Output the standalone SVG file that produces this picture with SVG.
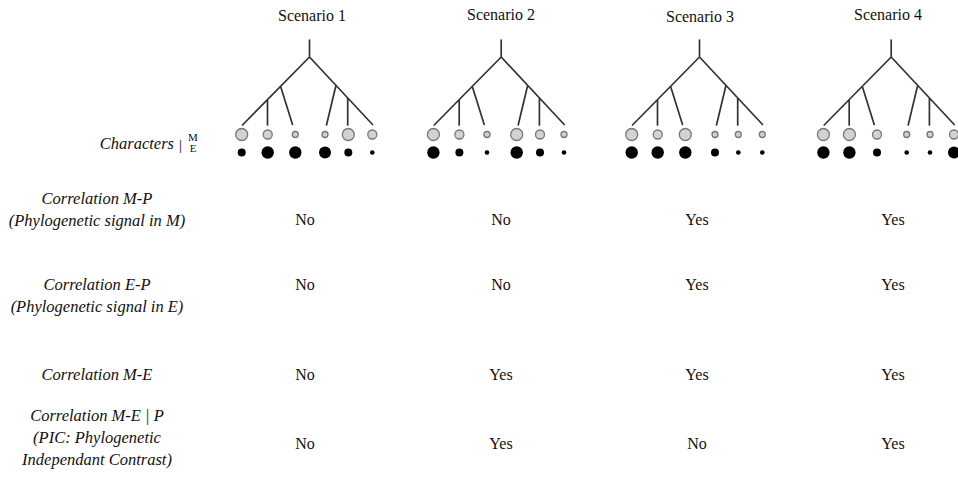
<svg xmlns="http://www.w3.org/2000/svg" width="958" height="480" viewBox="0 0 958 480">
<style>
text{font-family:"Liberation Serif","Times New Roman",serif;fill:#111}
.hd{font-size:16px;text-anchor:middle}
.lab{font-size:16.5px;font-style:italic;text-anchor:middle}
.val{font-size:16px;text-anchor:middle}
.br{stroke:#333;stroke-width:1.7;fill:none;stroke-linecap:round}
.m{fill:#d2d2d2;stroke:#777;stroke-width:1.3}
.e{fill:#000}
</style>
<defs>
<g id="tree">
<path class="br" d="M309.5,40V57M309.5,57L242.5,125M280.7,86.7L292.5,124.5M267.5,99.5V125M309.5,57L372.5,124.5M336,85.3L326.5,125M347.7,98V125"/>
</g>
</defs>
<rect width="958" height="480" fill="#fff"/>

<g id="labels">
<text x="174" y="148.5" style="font-size:16.5px;font-style:italic;text-anchor:end">Characters</text>
<text x="179" y="150" style="font-size:15px">|</text>
<text x="193" y="140.5" style="font-size:11px;text-anchor:middle">M</text>
<text x="193" y="151.5" style="font-size:11px;text-anchor:middle">E</text>
<text class="lab" x="97" y="203.5">Correlation M-P</text>
<text class="lab" x="97" y="225.5">(Phylogenetic signal in M)</text>
<text class="lab" x="97" y="290">Correlation E-P</text>
<text class="lab" x="97" y="312">(Phylogenetic signal in E)</text>
<text class="lab" x="97" y="380">Correlation M-E</text>
<text class="lab" x="97" y="420.5">Correlation M-E | P</text>
<text class="lab" x="97" y="442.5">(PIC: Phylogenetic</text>
<text class="lab" x="97" y="464.5">Independant Contrast)</text>
</g>

<g id="scenario1">
<text class="hd" x="312" y="20.5">Scenario 1</text>
<use href="#tree"/>
<circle class="m" cx="241.7" cy="134.5" r="6"/>
<circle class="m" cx="267.7" cy="134.5" r="4.5"/>
<circle class="m" cx="295.3" cy="134.5" r="3"/>
<circle class="m" cx="325" cy="134.5" r="3"/>
<circle class="m" cx="348.3" cy="134.5" r="6"/>
<circle class="m" cx="372.3" cy="134.5" r="4.5"/>
<circle class="e" cx="241.7" cy="152.5" r="4"/>
<circle class="e" cx="267.7" cy="152.5" r="6.2"/>
<circle class="e" cx="295.3" cy="152.5" r="6.2"/>
<circle class="e" cx="325" cy="152.5" r="6"/>
<circle class="e" cx="348.3" cy="152.5" r="4"/>
<circle class="e" cx="372.3" cy="152.5" r="2.3"/>
<text class="val" x="305" y="225">No</text>
<text class="val" x="305" y="290">No</text>
<text class="val" x="305" y="380">No</text>
<text class="val" x="305" y="449">No</text>
</g>

<g id="scenario2">
<text class="hd" x="501" y="19.5">Scenario 2</text>
<g transform="translate(191.7,0)">
<use href="#tree"/>
<circle class="m" cx="241.7" cy="134.5" r="6"/>
<circle class="m" cx="267.7" cy="134.5" r="4.5"/>
<circle class="m" cx="295.3" cy="134.5" r="3"/>
<circle class="m" cx="325" cy="134.5" r="6"/>
<circle class="m" cx="348.3" cy="134.5" r="4.5"/>
<circle class="m" cx="372.3" cy="134.5" r="3"/>
<circle class="e" cx="241.7" cy="152.5" r="6.2"/>
<circle class="e" cx="267.7" cy="152.5" r="4"/>
<circle class="e" cx="295.3" cy="152.5" r="2.3"/>
<circle class="e" cx="325" cy="152.5" r="6.2"/>
<circle class="e" cx="348.3" cy="152.5" r="4"/>
<circle class="e" cx="372.3" cy="152.5" r="2.3"/>
</g>
<text class="val" x="501" y="225">No</text>
<text class="val" x="501" y="290">No</text>
<text class="val" x="501" y="380">Yes</text>
<text class="val" x="501" y="449">Yes</text>
</g>

<g id="scenario3">
<text class="hd" x="700" y="21.5">Scenario 3</text>
<g transform="translate(390,0)">
<use href="#tree"/>
<circle class="m" cx="241.7" cy="134.5" r="6"/>
<circle class="m" cx="267.7" cy="134.5" r="4.5"/>
<circle class="m" cx="295.3" cy="134.5" r="6"/>
<circle class="m" cx="325" cy="134.5" r="3"/>
<circle class="m" cx="348.3" cy="134.5" r="3"/>
<circle class="m" cx="372.3" cy="134.5" r="3"/>
<circle class="e" cx="241.7" cy="152.5" r="6.2"/>
<circle class="e" cx="267.7" cy="152.5" r="6.2"/>
<circle class="e" cx="295.3" cy="152.5" r="6.2"/>
<circle class="e" cx="325" cy="152.5" r="4"/>
<circle class="e" cx="348.3" cy="152.5" r="2.3"/>
<circle class="e" cx="372.3" cy="152.5" r="2.3"/>
</g>
<text class="val" x="697" y="225">Yes</text>
<text class="val" x="697" y="290">Yes</text>
<text class="val" x="697" y="380">Yes</text>
<text class="val" x="697" y="449">No</text>
</g>

<g id="scenario4">
<text class="hd" x="888" y="19.5">Scenario 4</text>
<g transform="translate(581.7,0)">
<use href="#tree"/>
<circle class="m" cx="241.7" cy="134.5" r="6"/>
<circle class="m" cx="267.7" cy="134.5" r="6"/>
<circle class="m" cx="295.3" cy="134.5" r="4.5"/>
<circle class="m" cx="325" cy="134.5" r="3"/>
<circle class="m" cx="348.3" cy="134.5" r="3"/>
<circle class="m" cx="372.3" cy="134.5" r="4.5"/>
<circle class="e" cx="241.7" cy="152.5" r="6.2"/>
<circle class="e" cx="267.7" cy="152.5" r="6.2"/>
<circle class="e" cx="295.3" cy="152.5" r="4"/>
<circle class="e" cx="325" cy="152.5" r="2.3"/>
<circle class="e" cx="348.3" cy="152.5" r="2.3"/>
<circle class="e" cx="372.3" cy="152.5" r="6"/>
</g>
<text class="val" x="893" y="225">Yes</text>
<text class="val" x="893" y="290">Yes</text>
<text class="val" x="893" y="380">Yes</text>
<text class="val" x="893" y="449">Yes</text>
</g>
</svg>
